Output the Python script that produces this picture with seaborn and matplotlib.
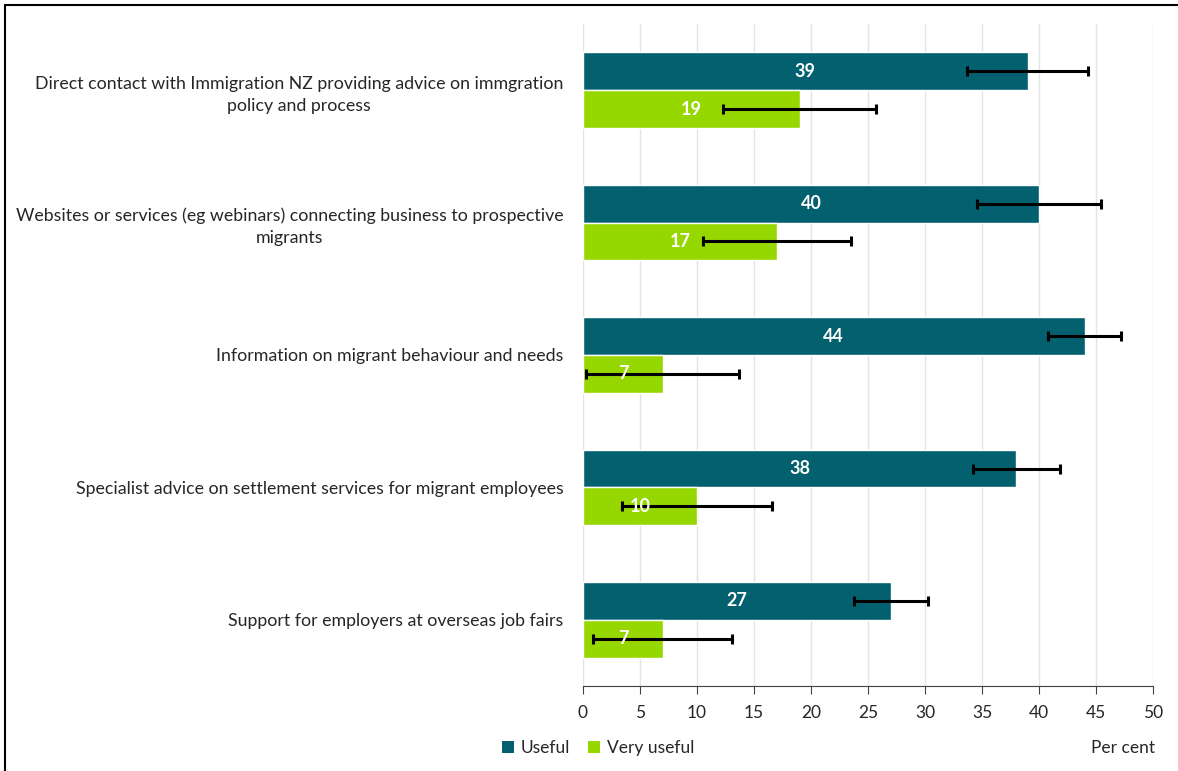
import numpy as np
import pandas as pd
import seaborn as sns
import matplotlib.pyplot as plt
from matplotlib.patches import Patch
from matplotlib.lines import Line2D

categories = [
    "Direct contact with Immigration NZ providing advice on immgration\npolicy and process",
    "Websites or services (eg webinars) connecting business to prospective\nmigrants",
    "Information on migrant behaviour and needs",
    "Specialist advice on settlement services for migrant employees",
    "Support for employers at overseas job fairs",
]
useful = [39, 40, 44, 38, 27]
very_useful = [19, 17, 7, 10, 7]
useful_err = [5.3, 5.4, 3.2, 3.8, 3.25]
very_useful_err = [6.7, 6.5, 6.7, 6.6, 6.1]
series = ["Useful", "Very useful"]
colors = ["#02606F", "#97D700"]

df = pd.DataFrame({
    "item": categories * 2,
    "value": useful + very_useful,
    "series": [series[0]] * 5 + [series[1]] * 5,
})

sns.set_style("white")
plt.rcParams['font.family'] = ['Lato', 'DejaVu Sans']

fig = plt.figure(figsize=(11.78, 7.71), dpi=100)
ax = fig.add_axes([583 / 1178, 1 - 686 / 771, 570 / 1178, 662 / 771])

sns.barplot(data=df, y="item", x="value", hue="series", orient="h",
            palette=colors, width=0.57, saturation=1, legend=False, ax=ax)

errs = [useful_err, very_useful_err]
vals = [useful, very_useful]
for cont, err, v in zip(ax.containers, errs, vals):
    ys = [b.get_y() + b.get_height() / 2 for b in cont]
    ax.errorbar(v, ys, xerr=err, fmt='none', ecolor='black',
                elinewidth=2.2, capsize=3.5, capthick=2.2, zorder=4)
    for b, val in zip(cont, v):
        ax.text(val / 2, b.get_y() + b.get_height() / 2, str(val),
                color='white', fontweight='bold', fontsize=13,
                ha='center', va='center', zorder=5)

ax.set_xlim(0, 50)
ax.set_ylim(len(categories) - 0.5, -0.5)
ax.set_xticks(np.arange(0, 51, 5))
ax.grid(axis='x', color='#E3E3E3', linewidth=1)
ax.set_axisbelow(True)
for s in ['top', 'right', 'left']:
    ax.spines[s].set_visible(False)
ax.spines['bottom'].set_color('#404040')
ax.tick_params(axis='x', direction='out', length=6, color='#404040',
               labelsize=12.5, pad=8, bottom=True)
ax.tick_params(axis='y', length=0, labelsize=12.8, pad=14)
for lbl in ax.get_yticklabels():
    lbl.set_multialignment('center')
    lbl.set_linespacing(1.45)
ax.set_xlabel('')
ax.set_ylabel('')

handles = [Patch(facecolor=c, edgecolor='none', label=s) for c, s in zip(colors, series)]
fig.legend(handles=handles, loc='center left', bbox_to_anchor=(495 / 1178, 1 - 748 / 771),
           ncol=2, frameon=False, fontsize=12.5, handlelength=0.7, handleheight=0.7,
           handletextpad=0.4, columnspacing=1.0, borderaxespad=0)
fig.text(1155 / 1178, 1 - 748 / 771, "Per cent", ha='right', va='center', fontsize=12.5)

fx = 5 / 1178
fy = 1 - 5 / 771
fig.add_artist(Line2D([fx, fx], [0, fy], color='black', linewidth=1.5, transform=fig.transFigure))
fig.add_artist(Line2D([fx, 1], [fy, fy], color='black', linewidth=1.5, transform=fig.transFigure))

fig.savefig("out.png", dpi=100)
